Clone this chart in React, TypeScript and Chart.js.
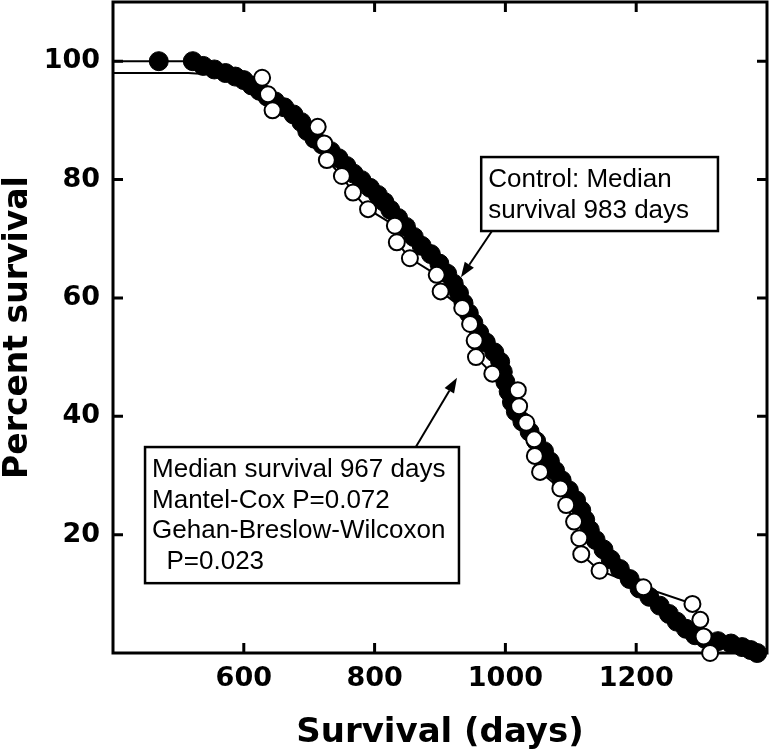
import React, { useEffect, useRef } from 'react';
import { Chart, registerables } from 'chart.js';

Chart.register(...registerables);

// ---- data ----
const controlDays = [400, 470, 522, 538, 555, 572, 587, 600, 612, 624, 636, 648, 662, 676, 688, 697, 708, 720, 733, 745, 757, 768, 780, 793, 805, 815, 824, 836, 848, 860, 872, 886, 899, 911, 921, 929, 936, 944, 951, 960, 970, 983, 992, 996, 1000, 1005, 1010, 1016, 1026, 1037, 1047, 1059, 1068, 1076, 1086, 1097, 1108, 1116, 1122, 1129, 1138, 1150, 1161, 1175, 1190, 1205, 1220, 1236, 1250, 1262, 1276, 1290, 1305, 1325, 1345, 1362, 1375, 1385];
const controlPct = [100, 100, 100, 99.2, 98.6, 98.0, 97.4, 96.8, 95.9, 95.0, 94.0, 93.2, 92.2, 91.0, 89.7, 88.2, 86.9, 85.9, 84.8, 83.6, 82.3, 81.0, 79.9, 78.6, 77.4, 76.2, 74.9, 73.5, 72.0, 70.3, 68.8, 67.4, 65.8, 64.1, 62.4, 60.8, 59.1, 57.4, 55.8, 54.1, 52.5, 50.8, 49.2, 47.5, 45.8, 44.2, 42.4, 40.8, 39.1, 37.4, 35.8, 34.1, 32.4, 30.8, 29.2, 27.5, 25.8, 24.1, 22.5, 20.8, 19.1, 17.5, 15.8, 14.2, 12.5, 10.9, 9.5, 8.0, 6.6, 5.3, 4.1, 3.0, 2.4, 2.0, 1.6, 1.0, 0.5, 0];

const treatedDays = [400, 515, 628, 637, 644, 713, 723, 727, 750, 767, 790, 831, 834, 854, 895, 901, 934, 946, 953, 955, 980, 1019, 1021, 1032, 1044, 1045, 1053, 1084, 1093, 1105, 1113, 1116, 1144, 1211, 1286, 1298, 1303, 1313];
const treatedPct = [98, 98, 97.2, 94.4, 91.7, 88.9, 86.1, 83.3, 80.6, 77.8, 75.0, 72.2, 69.4, 66.7, 63.9, 61.1, 58.3, 55.6, 52.8, 50.0, 47.2, 44.4, 41.7, 38.9, 36.1, 33.3, 30.6, 27.8, 25.0, 22.2, 19.4, 16.7, 13.9, 11.1, 8.3, 5.6, 2.8, 0];
// first entries of each curve are line-only (no symbol drawn)
const controlLineOnly = 1;
const treatedLineOnly = 2;

const xTicks = [600, 800, 1000, 1200];
const yTicks = [20, 40, 60, 80, 100];
const xTitle = 'Survival (days)';
const yTitle = 'Percent survival';

const note1Lines = ['Control: Median', 'survival 983 days'];
const note2Lines = ['Median survival 967 days', 'Mantel-Cox P=0.072', 'Gehan-Breslow-Wilcoxon', '  P=0.023'];

// annotation anchors in data coordinates (days, percent)
const notes = [
  { lines: note1Lines, x0: 963, x1: 1325, y0: 83.8, y1: 71.3, from: [979.5, 71.3], to: [932, 63.5] },
  { lines: note2Lines, x0: 449, x1: 929, y0: 34.8, y1: 11.8, from: [863, 34.8], to: [926, 46.5] },
];

const BOLD = 'DejaVu Sans';

const framePlugin = {
  id: 'frameTicks',
  beforeDatasetsDraw(chart: any) {
    const { ctx, chartArea: a, scales } = chart;
    ctx.save();
    ctx.strokeStyle = '#000';
    ctx.lineWidth = 3;
    ctx.strokeRect(a.left, a.top, a.right - a.left, a.bottom - a.top);
    ctx.beginPath();
    for (const v of xTicks) {
      const p = scales.x.getPixelForValue(v);
      ctx.moveTo(p, a.bottom); ctx.lineTo(p, a.bottom - 10);
      ctx.moveTo(p, a.top); ctx.lineTo(p, a.top + 10);
    }
    for (const v of yTicks) {
      const p = scales.y.getPixelForValue(v);
      ctx.moveTo(a.left, p); ctx.lineTo(a.left + 10, p);
      ctx.moveTo(a.right, p); ctx.lineTo(a.right - 10, p);
    }
    ctx.stroke();
    ctx.restore();
  },
};

const notesPlugin = {
  id: 'notes',
  afterDatasetsDraw(chart: any) {
    const { ctx, scales } = chart;
    const X = (v: number) => scales.x.getPixelForValue(v);
    const Y = (v: number) => scales.y.getPixelForValue(v);
    ctx.save();
    for (const n of notes) {
      const l = X(n.x0), r = X(n.x1), t = Y(n.y0), b = Y(n.y1);
      ctx.fillStyle = '#fff';
      ctx.fillRect(l, t, r - l, b - t);
      ctx.strokeStyle = '#000';
      ctx.lineWidth = 2.5;
      ctx.strokeRect(l, t, r - l, b - t);
      ctx.fillStyle = '#000';
      ctx.font = '26px "Liberation Sans", Arial, sans-serif';
      ctx.textAlign = 'left';
      ctx.textBaseline = 'alphabetic';
      n.lines.forEach((s, i) => ctx.fillText(s, l + 7, t + 30 + i * 30.7));
      const fx = X(n.from[0]), fy = Y(n.from[1]);
      const tx = X(n.to[0]), ty = Y(n.to[1]);
      const ang = Math.atan2(ty - fy, tx - fx);
      const hl = 15, hw = 5.5;
      const bx = tx - hl * Math.cos(ang), by = ty - hl * Math.sin(ang);
      ctx.lineWidth = 2;
      ctx.beginPath();
      ctx.moveTo(fx, fy);
      ctx.lineTo(bx, by);
      ctx.stroke();
      ctx.beginPath();
      ctx.moveTo(tx, ty);
      ctx.lineTo(bx + hw * Math.sin(ang), by - hw * Math.cos(ang));
      ctx.lineTo(bx - hw * Math.sin(ang), by + hw * Math.cos(ang));
      ctx.closePath();
      ctx.fill();
    }
    ctx.restore();
  },
};

export default function App() {
  const ref = useRef<HTMLCanvasElement>(null);
  useEffect(() => {
    document.body.style.margin = '0';
    const treated = treatedDays.map((d, i) => ({ x: d, y: treatedPct[i] }));
    const control = controlDays.map((d, i) => ({ x: d, y: controlPct[i] }));
    const chart = new Chart(ref.current as HTMLCanvasElement, {
      type: 'scatter',
      data: {
        datasets: [
          {
            label: 'Treated',
            data: treated,
            showLine: true,
            borderColor: '#000',
            borderWidth: 2,
            tension: 0,
            pointRadius: (c: any) => (c.dataIndex < treatedLineOnly ? 0 : 8),
            pointBackgroundColor: '#fff',
            pointBorderColor: '#000',
            pointBorderWidth: 2,
            clip: false as any,
            order: 0,
          },
          {
            label: 'Control',
            data: control,
            showLine: true,
            borderColor: '#000',
            borderWidth: 2,
            tension: 0,
            pointRadius: (c: any) => (c.dataIndex < controlLineOnly ? 0 : 9.5),
            pointBackgroundColor: '#000',
            pointBorderColor: '#000',
            pointBorderWidth: 1,
            clip: false as any,
            order: 1,
          },
        ],
      },
      options: {
        animation: false,
        responsive: false,
        devicePixelRatio: 1,
        events: [],
        layout: { autoPadding: false, padding: { top: 2, right: 2, left: 0, bottom: 0 } },
        plugins: { legend: { display: false }, tooltip: { enabled: false } },
        scales: {
          x: {
            type: 'linear',
            min: 400,
            max: 1400,
            afterBuildTicks: (s: any) => { s.ticks = xTicks.map((v) => ({ value: v })); },
            afterFit: (s: any) => { s.height = 101; s.paddingLeft = 0; s.paddingRight = 0; s.paddingTop = 0; s.paddingBottom = 0; },
            grid: { display: false, drawTicks: false },
            border: { display: false },
            ticks: { color: '#000', padding: 10, maxRotation: 0, autoSkip: false, callback: (v: any) => String(v), font: { family: BOLD, size: 27, weight: 'bold' } },
            title: { display: true, text: xTitle, color: '#000', padding: { top: 0, bottom: 0 }, font: { family: BOLD, size: 34, weight: 'bold', lineHeight: 1.2 } },
          },
          y: {
            type: 'linear',
            min: 0,
            max: 110,
            afterBuildTicks: (s: any) => { s.ticks = yTicks.map((v) => ({ value: v })); },
            afterFit: (s: any) => { s.width = 113; s.paddingLeft = 0; s.paddingRight = 0; s.paddingTop = 0; s.paddingBottom = 0; },
            grid: { display: false, drawTicks: false },
            border: { display: false },
            ticks: { color: '#000', padding: 13, autoSkip: false, callback: (v: any) => String(v), font: { family: BOLD, size: 27, weight: 'bold' } },
            title: { display: true, text: yTitle, color: '#000', padding: { top: 0, bottom: 0 }, font: { family: BOLD, size: 33, weight: 'bold', lineHeight: 1.1 } },
          },
        },
      } as any,
      plugins: [framePlugin, notesPlugin],
    });
    return () => chart.destroy();
  }, []);
  return (
    <div style={{ width: 769, height: 754, background: '#fff' }}>
      <canvas ref={ref} width={769} height={754} style={{ display: 'block' }} />
    </div>
  );
}
